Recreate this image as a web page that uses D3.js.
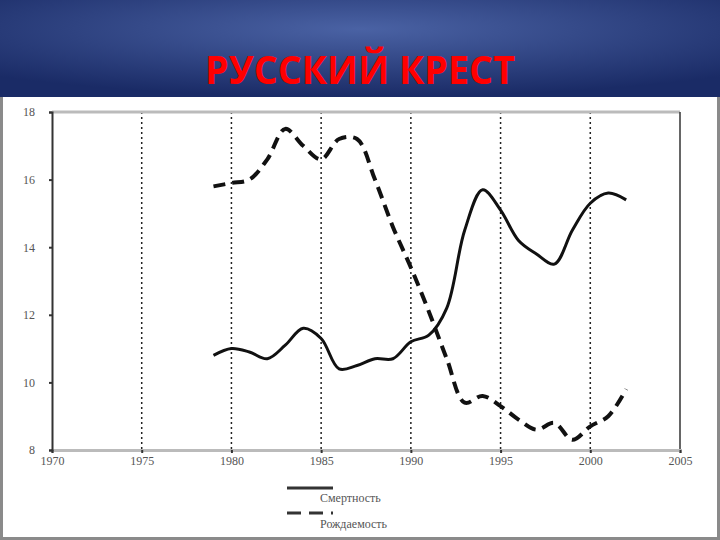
<!DOCTYPE html><html><head><meta charset="utf-8">
<script src="https://cdn.jsdelivr.net/npm/d3@7"></script>
<style>body{margin:0}svg{display:block}</style></head><body>
<script>
const years=[1979,1980,1981,1982,1983,1984,1985,1986,1987,1988,1989,1990,1991,1992,1993,1994,1995,1996,1997,1998,1999,2000,2001,2002];
const mortality=[10.8,11.0,10.9,10.7,11.1,11.6,11.3,10.4,10.5,10.7,10.7,11.2,11.4,12.2,14.5,15.7,15.1,14.2,13.8,13.5,14.5,15.3,15.6,15.4];
const birth=[15.8,15.9,16.0,16.6,17.5,17.0,16.6,17.2,17.2,16.0,14.6,13.4,12.1,10.7,9.4,9.6,9.3,8.9,8.6,8.8,8.3,8.7,9.0,9.8];
const xTicks=[1970,1975,1980,1985,1990,1995,2000,2005];
const yTicks=[8,10,12,14,16,18];
const gridYears=[1975,1980,1985,1990,1995,2000];
const svg=d3.select("body").append("svg").attr("width",720).attr("height",540);
const defs=svg.append("defs");
const rg=defs.append("radialGradient").attr("id","hg").attr("cx","50%").attr("cy","30%").attr("r","70%");
rg.append("stop").attr("offset","0%").attr("stop-color","#4a62a4");
rg.append("stop").attr("offset","100%").attr("stop-color","#1a2b66");
svg.append("rect").attr("width",720).attr("height",540).attr("fill","#8a8a8a");
svg.append("rect").attr("width",720).attr("height",97).attr("fill","url(#hg)");
svg.append("rect").attr("x",3).attr("y",97).attr("width",714).attr("height",440).attr("fill","#fff");
svg.append("text").attr("x",360).attr("y",84).attr("text-anchor","middle").attr("fill","#ff0000")
 .attr("font-family","Liberation Sans Narrow, Open Sans, sans-serif").attr("font-weight","bold").attr("font-size",40)
 .attr("textLength",310).attr("lengthAdjust","spacingAndGlyphs").text("РУССКИЙ  КРЕСТ");
const x=d3.scaleLinear().domain([1970,2005]).range([52,680]);
const y=d3.scaleLinear().domain([8,18]).range([450,112]);
const g=svg.append("g");
g.selectAll(".gv").data(gridYears).join("line").attr("x1",d=>x(d)).attr("x2",d=>x(d)).attr("y1",y(18)).attr("y2",y(8))
 .attr("stroke","#222").attr("stroke-width",1.5).attr("stroke-dasharray","2,3");
g.append("line").attr("x1",x(1970)).attr("x2",x(2005)).attr("y1",y(18)).attr("y2",y(18)).attr("stroke","#bbb").attr("stroke-width",3);
g.append("line").attr("x1",x(2005)).attr("x2",x(2005)).attr("y1",y(18)).attr("y2",y(8)).attr("stroke","#333").attr("stroke-width",1.5);
const xa=svg.append("g").attr("transform","translate(0,450)").call(d3.axisBottom(x).tickValues(xTicks).tickFormat(d3.format("d")).tickSize(3));
xa.select(".domain").attr("stroke","#bbb").attr("stroke-width",3);
const ya=svg.append("g").attr("transform","translate(52,0)").call(d3.axisLeft(y).tickValues(yTicks).tickSize(3).tickPadding(14));
ya.select(".domain").attr("stroke","#333").attr("stroke-width",2);
svg.selectAll(".tick text").attr("font-family","Liberation Serif, serif").attr("font-size",12).attr("fill","#555");
svg.selectAll(".tick line").attr("stroke","#333").attr("stroke-width",2);
const line=d3.line().x((d,i)=>x(years[i])).y(d=>y(d)).curve(d3.curveCatmullRom);
svg.append("path").attr("d",line(mortality)).attr("fill","none").attr("stroke","#111").attr("stroke-width",3);
svg.append("path").attr("d",line(birth)).attr("fill","none").attr("stroke","#111").attr("stroke-width",4).attr("stroke-dasharray","12,7");
const lg=svg.append("g").attr("font-family","Liberation Serif, serif").attr("font-size",12).attr("fill","#555");
lg.append("line").attr("x1",287).attr("x2",333).attr("y1",488).attr("y2",488).attr("stroke","#333").attr("stroke-width",3);
lg.append("text").attr("x",320).attr("y",502).text("Смертность");
lg.append("line").attr("x1",287).attr("x2",333).attr("y1",513).attr("y2",513).attr("stroke","#333").attr("stroke-width",3).attr("stroke-dasharray","14,8");
lg.append("text").attr("x",320).attr("y",528).text("Рождаемость");
</script></body></html>
